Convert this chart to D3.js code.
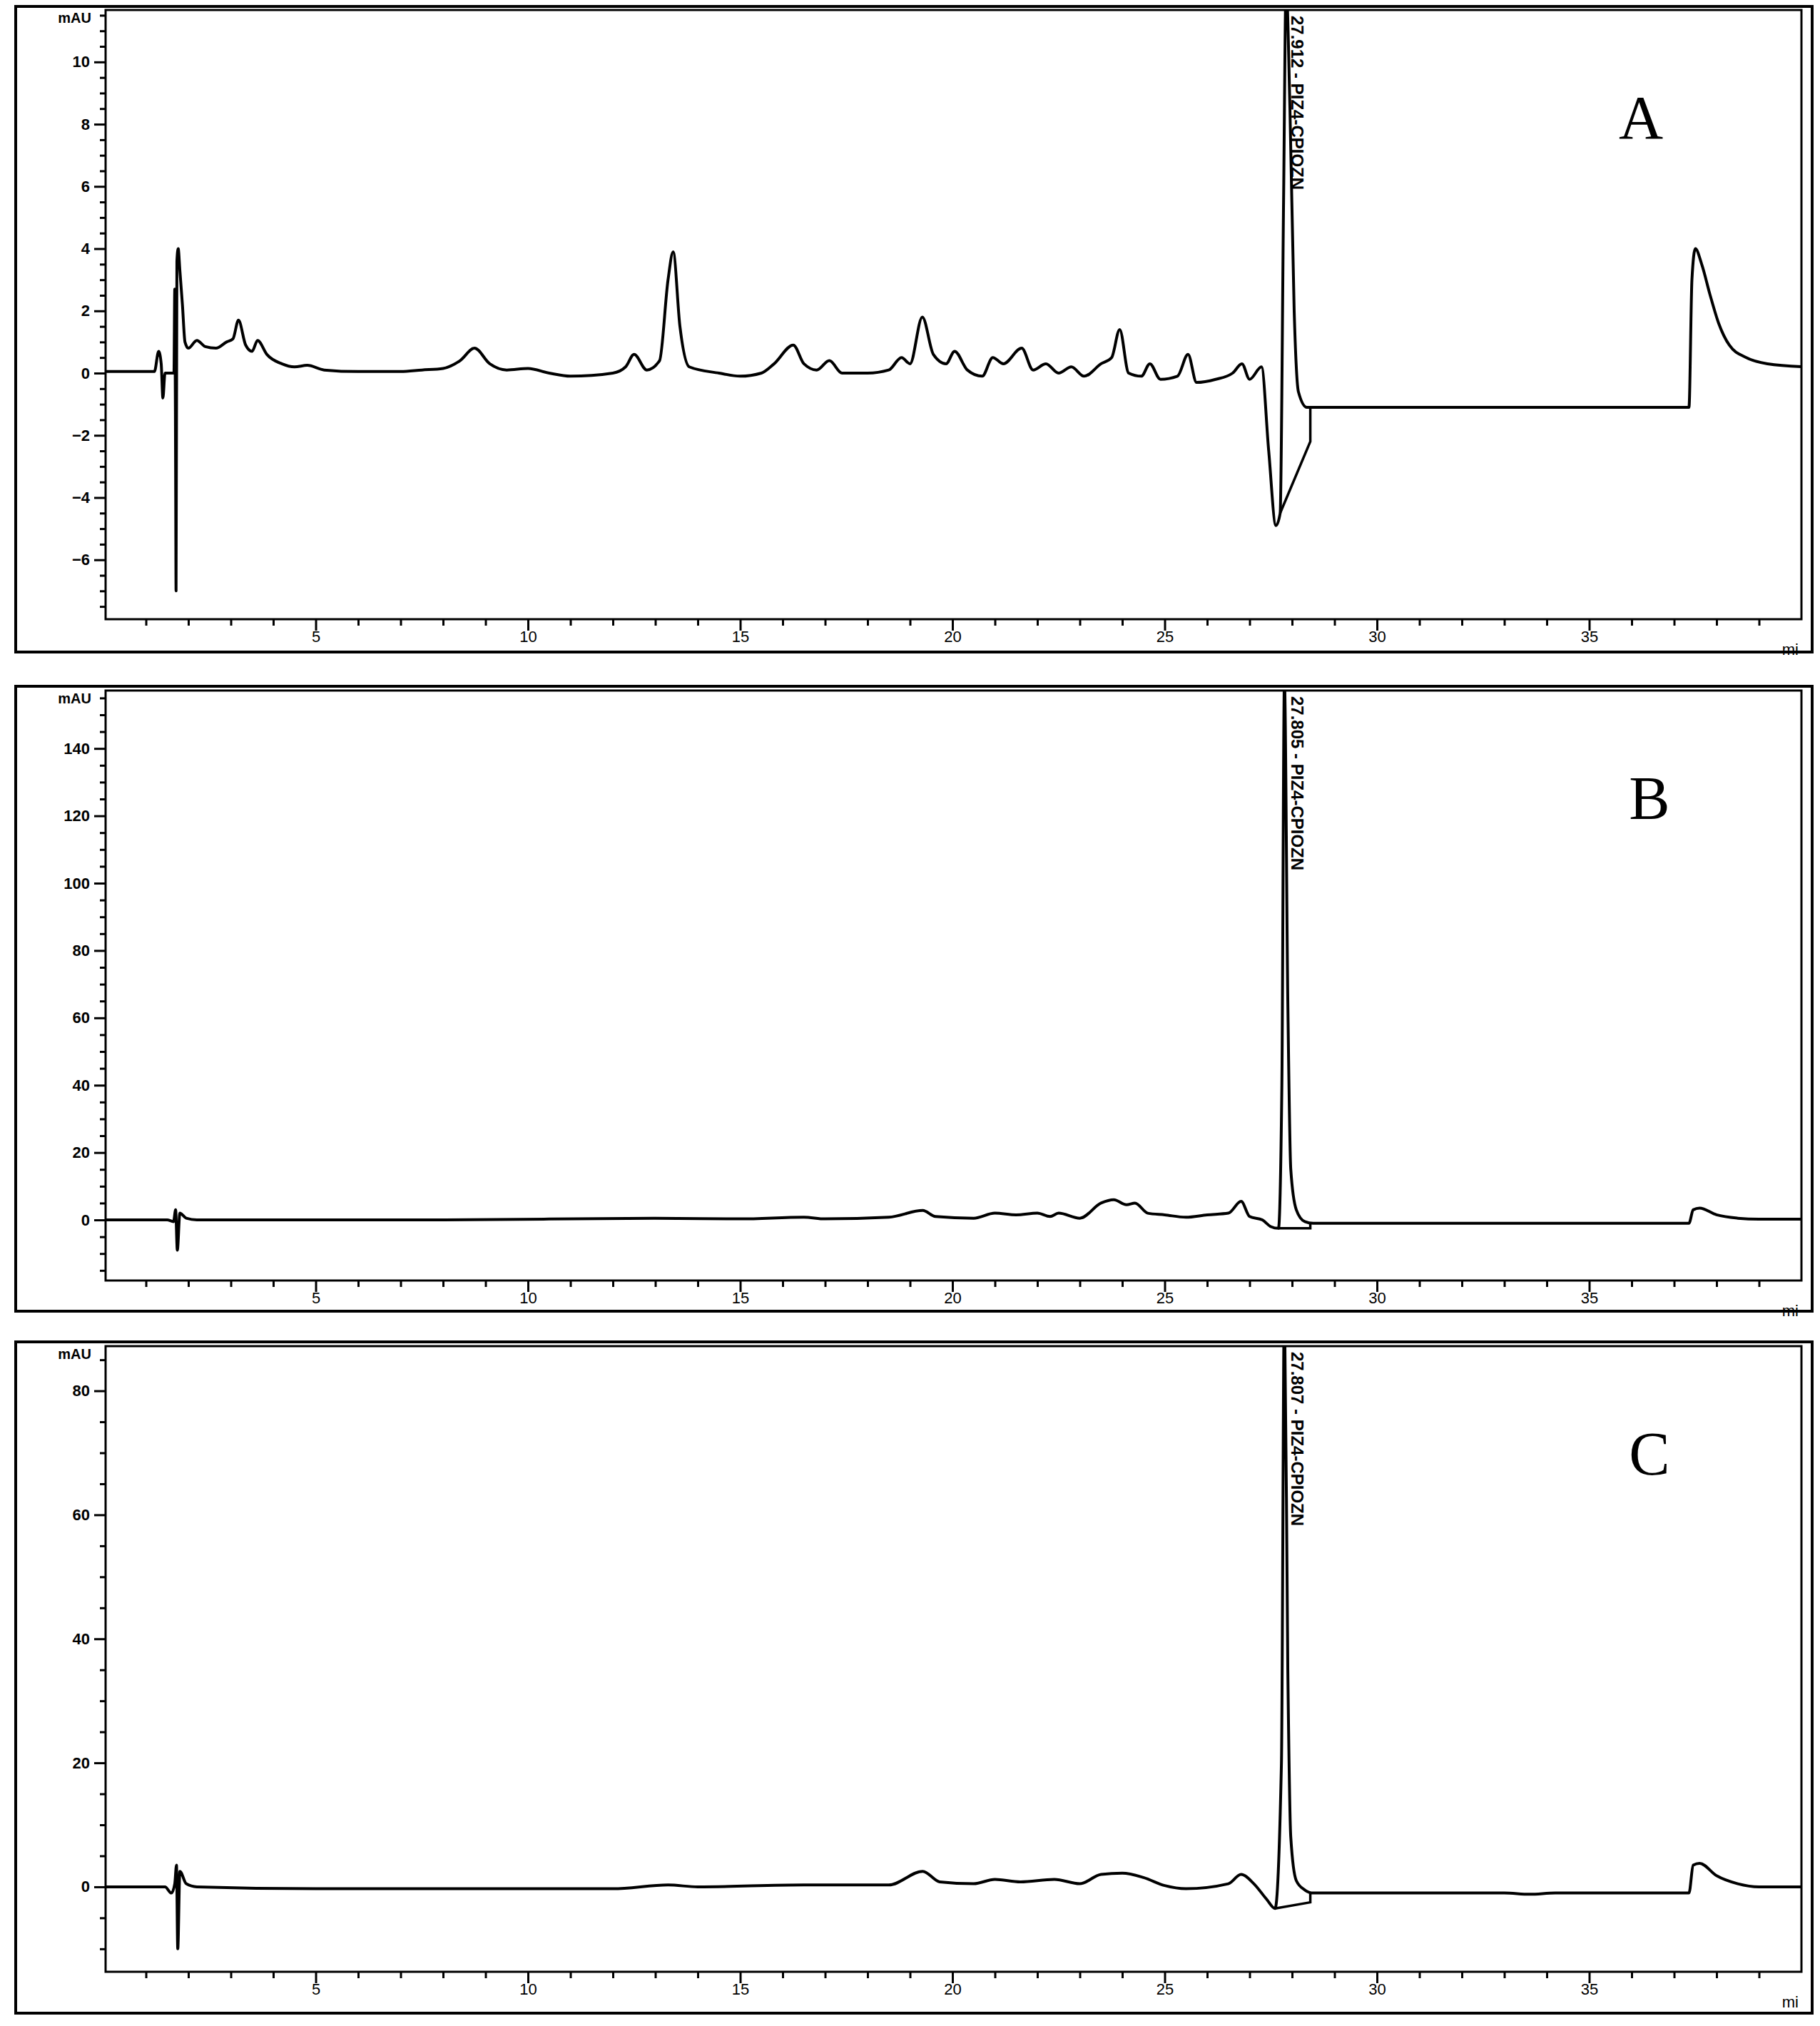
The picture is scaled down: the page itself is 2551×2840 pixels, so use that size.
<!DOCTYPE html>
<html><head><meta charset="utf-8">
<script src="https://cdn.jsdelivr.net/npm/d3@7"></script>
<style>body{margin:0;background:#fff}</style>
</head><body><svg id="fig"></svg>
<script>
const W = 2551, H = 2840;

// [time (min), mAU]
const traceA = [[0,0.05],[1.2,0.05],[1.3,0.7],[1.36,0.3],[1.4,-0.8],[1.45,0],[1.66,0],[1.68,2.7],[1.7,-3.2],[1.71,-7.0],[1.73,3.6],[1.76,4.0],[1.8,3.3],[1.86,2.2],[1.92,1.0],[2.0,0.8],[2.2,1.05],[2.4,0.85],[2.65,0.8],[2.9,1.0],[3.05,1.1],[3.18,1.7],[3.35,0.9],[3.5,0.7],[3.63,1.05],[3.85,0.6],[4.2,0.3],[4.5,0.2],[4.8,0.25],[5.2,0.1],[6,0.05],[7,0.05],[7.5,0.1],[8.0,0.15],[8.4,0.4],[8.74,0.8],[9.1,0.3],[9.5,0.1],[10,0.15],[10.5,0],[11,-0.1],[12,0],[12.3,0.2],[12.5,0.6],[12.8,0.1],[13.1,0.4],[13.3,3.0],[13.42,3.9],[13.58,1.5],[13.8,0.2],[14.5,0],[15,-0.1],[15.5,0],[15.8,0.3],[16.25,0.9],[16.5,0.3],[16.8,0.1],[17.1,0.4],[17.4,0],[18,0],[18.5,0.1],[18.8,0.5],[19.0,0.3],[19.29,1.8],[19.55,0.6],[19.85,0.3],[20.05,0.7],[20.35,0.1],[20.7,-0.1],[20.95,0.5],[21.2,0.3],[21.63,0.8],[21.9,0.1],[22.2,0.3],[22.5,0],[22.8,0.2],[23.1,-0.1],[23.5,0.3],[23.75,0.5],[23.94,1.4],[24.15,0],[24.45,-0.1],[24.65,0.3],[24.9,-0.2],[25.3,-0.1],[25.55,0.6],[25.75,-0.3],[26.2,-0.2],[26.6,0],[26.82,0.3],[27.0,-0.2],[27.28,0.2],[27.45,-2.5],[27.62,-4.9],[27.72,-4.5],[27.8,5.5],[27.86,12.5],[27.95,8.5],[28.05,2],[28.15,-0.6],[28.35,-1.1],[30,-1.1],[32,-1.1],[34,-1.1],[36,-1.1],[37.35,-1.1],[37.42,3.0],[37.5,4.0],[37.65,3.5],[37.85,2.5],[38.05,1.6],[38.3,0.9],[38.7,0.5],[39.2,0.3],[40.1,0.2]];
const baseA = [[27.72,-4.5],[28.43,-2.2],[28.43,-1.1]];

const traceB = [[0,0],[1.5,0],[1.65,-0.5],[1.7,3],[1.74,-9],[1.8,2],[1.95,0.5],[2.2,0],[8,0],[13,0.5],[15,0.3],[16.5,0.8],[17,0.3],[18.5,0.8],[19.3,2.8],[19.6,1.0],[20.5,0.5],[21,2.0],[21.5,1.5],[22,2.0],[22.3,1],[22.5,2],[23,0.5],[23.5,5],[23.8,6],[24.1,4.5],[24.3,5],[24.6,2],[25,1.5],[25.5,0.8],[26,1.5],[26.5,2],[26.8,5.5],[27.0,1],[27.3,0],[27.5,-2],[27.68,-2.5],[27.76,40],[27.82,160],[27.9,65],[27.97,15],[28.1,3],[28.3,-0.5],[28.5,-1],[32,-1],[37.35,-1],[37.45,3],[37.6,3.5],[38,1.5],[38.5,0.5],[39,0.2],[40.1,0.2]];
const baseB = [[27.68,-2.5],[28.43,-2.5],[28.43,-1]];

const traceC = [[0,0],[1.45,0],[1.6,-1],[1.68,0.5],[1.72,3.5],[1.75,-10],[1.8,2.5],[1.95,0.5],[2.2,0],[5,-0.3],[12,-0.3],[13.3,0.3],[14,0],[16.5,0.3],[18.5,0.3],[19.3,2.5],[19.7,0.8],[20.5,0.5],[21,1.2],[21.6,0.8],[22.4,1.2],[23,0.5],[23.5,2],[24,2.2],[24.5,1.5],[25,0.2],[25.5,-0.3],[26.5,0.5],[26.8,2],[27.1,0.5],[27.4,-2],[27.6,-3.5],[27.75,20],[27.82,95],[27.9,35],[27.97,8],[28.1,1],[28.3,-0.5],[28.5,-1],[33,-1],[33.6,-1.2],[34.2,-1],[37.35,-1],[37.45,3.5],[37.6,3.8],[38,1.8],[38.5,0.5],[39,0],[40.1,0]];
const baseC = [[27.6,-3.5],[28.43,-2.5],[28.43,-1]];

const xTicks = [5, 10, 15, 20, 25, 30, 35];
const panels = [
  { letter: "A", top: 9, bottom: 914, plotTop: 14, axisY: 868, yDomain: [-7.91, 11.67], yTicks: [-6,-4,-2,0,2,4,6,8,10], yMinor: 0.5, trace: traceA, base: baseA, peak: "27.912 - PIZ4-CPIOZN" },
  { letter: "B", top: 962, bottom: 1838, plotTop: 968, axisY: 1795, yDomain: [-18, 157.2], yTicks: [0,20,40,60,80,100,120,140], yMinor: 5, trace: traceB, base: baseB, peak: "27.805 - PIZ4-CPIOZN" },
  { letter: "C", top: 1881, bottom: 2822, plotTop: 1887, axisY: 2764, yDomain: [-13.7, 87.2], yTicks: [0,20,40,60,80], yMinor: 5, trace: traceC, base: baseC, peak: "27.807 - PIZ4-CPIOZN" }
];

const frameL = 22, frameR = 2540, plotL = 148, plotR = 2525;
const svg = d3.select("#fig").attr("width", W).attr("height", H);
const x = d3.scaleLinear().domain([0.05, 40.0]).range([plotL, plotR]);

panels.forEach((p, i) => {
  const g = svg.append("g");
  const y = d3.scaleLinear().domain(p.yDomain).range([p.axisY, p.plotTop]);
  const cid = "clip" + i;
  g.append("clipPath").attr("id", cid).append("rect")
    .attr("x", plotL).attr("y", p.plotTop).attr("width", plotR - plotL).attr("height", p.axisY - p.plotTop);

  g.append("rect").attr("x", frameL).attr("y", p.top).attr("width", frameR - frameL).attr("height", p.bottom - p.top)
    .attr("fill", "none").attr("stroke", "#000").attr("stroke-width", 4);
  g.append("rect").attr("x", plotL).attr("y", p.plotTop).attr("width", plotR - plotL).attr("height", p.axisY - p.plotTop)
    .attr("fill", "none").attr("stroke", "#000").attr("stroke-width", 3);

  // x axis
  const xa = g.append("g").attr("transform", `translate(0,${p.axisY})`)
    .call(d3.axisBottom(x).tickValues(d3.range(1, 40)).tickSize(9).tickFormat(d => xTicks.includes(d) ? d : ""));
  xa.select(".domain").remove();
  xa.selectAll("line").attr("stroke-width", 3).attr("y2", d => xTicks.includes(d) ? 16 : 9);
  xa.selectAll("text").attr("font-family", "Liberation Sans Narrow, Liberation Sans, sans-serif").attr("font-size", 22).attr("dy", "0.9em");
  g.append("text").attr("x", plotR - 4).attr("y", p.axisY + 50).attr("text-anchor", "end")
    .attr("font-family", "Liberation Sans, sans-serif").attr("font-size", 22).text("mi");

  // y axis
  const ya = g.append("g").attr("transform", `translate(${plotL},0)`)
    .call(d3.axisLeft(y).tickValues(d3.range(Math.ceil(p.yDomain[0] / p.yMinor) * p.yMinor, p.yDomain[1], p.yMinor)).tickSize(8)
      .tickFormat(d => p.yTicks.some(t => Math.abs(t - d) < 1e-6) ? d3.format("d")(d) : ""));
  ya.select(".domain").remove();
  ya.selectAll("line").attr("stroke-width", 3).attr("x2", d => p.yTicks.some(t => Math.abs(t - d) < 1e-6) ? -16 : -8);
  ya.selectAll("text").attr("font-family", "Liberation Sans, sans-serif").attr("font-size", 22).attr("font-weight", "bold").attr("x", -22);
  g.append("text").attr("x", plotL - 20).attr("y", p.plotTop + 18).attr("text-anchor", "end")
    .attr("font-family", "Liberation Sans, sans-serif").attr("font-size", 20).attr("font-weight", "bold").text("mAU");

  const smooth = d3.line().curve(d3.curveMonotoneX).x(d => x(d[0])).y(d => y(d[1]));
  const line = d3.line().x(d => x(d[0])).y(d => y(d[1]));
  g.append("path").datum(p.trace).attr("clip-path", `url(#${cid})`).attr("d", smooth)
    .attr("fill", "none").attr("stroke", "#000").attr("stroke-width", 4).attr("stroke-linejoin", "round");
  g.append("path").datum(p.base).attr("d", line)
    .attr("fill", "none").attr("stroke", "#000").attr("stroke-width", 3.5);

  // peak label
  g.append("text").attr("transform", `translate(${x(27.95) + 8},${p.plotTop + 8}) rotate(90)`)
    .attr("font-family", "Liberation Sans Narrow, Liberation Sans, sans-serif").attr("font-size", 24).attr("font-weight", "bold")
    .attr("dominant-baseline", "middle").text(p.peak);

  g.append("text").attr("x", p.letter === "A" ? 2300 : 2312).attr("y", p.plotTop + 180).attr("text-anchor", "middle")
    .attr("font-family", "Liberation Serif, serif").attr("font-size", 86).text(p.letter);
});
</script></body></html>
